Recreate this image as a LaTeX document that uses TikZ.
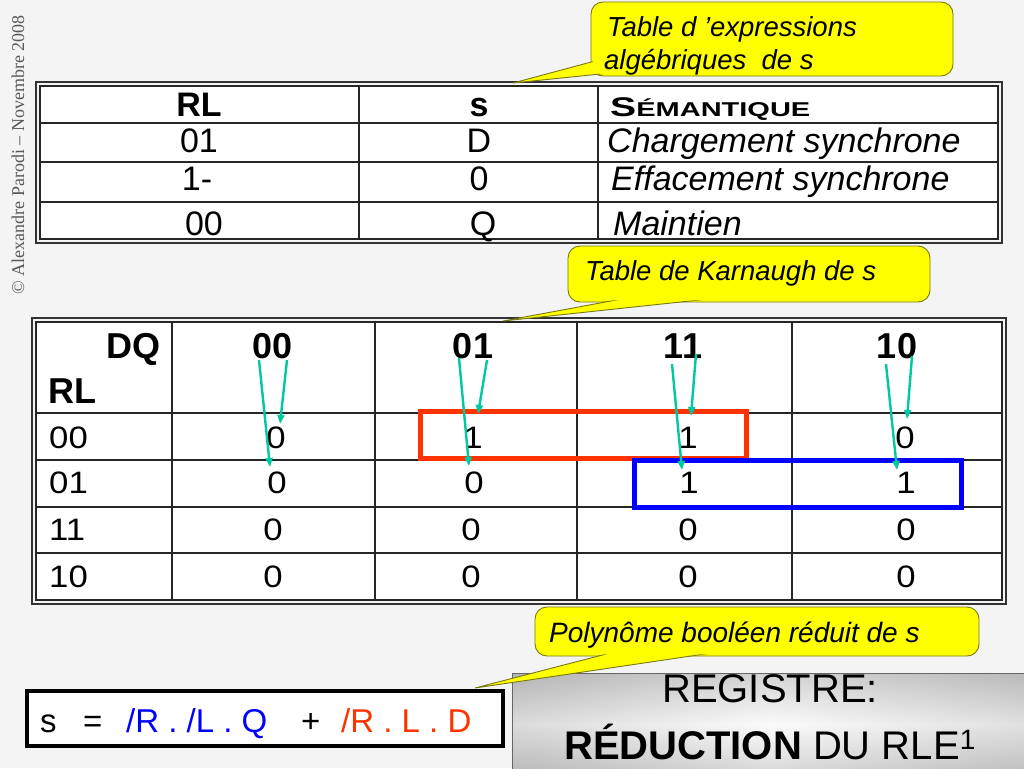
\documentclass[tikz,border=0pt]{standalone}
\usepackage{fontspec}
\setmainfont{Liberation Sans}
\newfontfamily\serifcopy{Liberation Serif}
\newfontfamily\kfont{Liberation Sans}[FakeStretch=1.12]
\usetikzlibrary{arrows.meta}
\newcommand{\fsz}[1]{\fontsize{#1}{#1}\selectfont}
\definecolor{bg}{RGB}{244,244,244}
\definecolor{callyellow}{RGB}{255,255,0}
\definecolor{callborder}{RGB}{120,120,20}
\definecolor{tealarrow}{RGB}{0,200,160}
\definecolor{redo}{RGB}{255,51,0}
\definecolor{blu}{RGB}{0,0,255}
\begin{document}
\begin{tikzpicture}[x=1pt,y=-1pt,
  t/.style={inner sep=0pt, anchor=base},
  tw/.style={inner sep=0pt, anchor=base west},
  te/.style={inner sep=0pt, anchor=base east},
  gridline/.style={line width=1.3pt, black!85},
  frameout/.style={line width=1.6pt, black!80},
  framein/.style={line width=1.6pt, black!85, fill=white},
  callbox/.style={fill=callyellow, draw=callborder, line width=0.9pt, rounded corners=12pt},
  callptr/.style={fill=callyellow, draw=callborder, line width=0.9pt, line join=miter},
  callfill/.style={fill=callyellow, rounded corners=10.5pt},
  calltxt/.style={inner sep=0pt, anchor=base west, font=\fsz{27.5}\itshape},
  toptxt/.style={inner sep=0pt, anchor=base, font=\fsz{34}},
  topsem/.style={inner sep=0pt, anchor=base west, font=\fsz{34}\itshape},
  khead/.style={inner sep=0pt, anchor=base, font=\fsz{36}\bfseries},
  kval/.style={inner sep=0pt, anchor=base, font=\kfont\fsz{31}},
  krow/.style={inner sep=0pt, anchor=base west, font=\kfont\fsz{31}},
  karrow/.style={tealarrow, line width=2.4pt, -{Triangle[length=9pt,width=7pt]}},
  groupbox/.style={line width=5pt},
]
\useasboundingbox (0,0) rectangle (1024,768);
\fill[bg] (0,0) rectangle (1024,768);

% copyright
\node[inner sep=0pt, rotate=90, text=black!65, font=\serifcopy\fsz{18}] (copy) at (18,155) {© Alexandre Parodi – Novembre 2008};

% ---------------- top table ----------------
\draw[frameout] (36,82) rectangle (1002,243);
\draw[framein] (40,86) rectangle (998,239);
\draw[gridline] (359,86) -- (359,239);
\draw[gridline] (598,86) -- (598,239);
\draw[gridline] (40,123) -- (998,123);
\draw[gridline] (40,162) -- (998,162);
\draw[gridline] (40,202) -- (998,202);

\node[toptxt, font=\fsz{34}\bfseries] (hRL) at (199,116) {RL};
\node[toptxt, font=\fsz{34}\bfseries] (hs) at (479,116) {s};
\node[tw] (hsem) at (610,116) {\scalebox{1.45}[1]{\bfseries\fsz{27}S\fsz{20}ÉMANTIQUE}};
\node[toptxt] (r1a) at (199,152) {01};
\node[toptxt] (r1b) at (479,152) {D};
\node[topsem] (r1c) at (607,152) {Chargement synchrone};
\node[toptxt] (r2a) at (197,190) {1-};
\node[toptxt] (r2b) at (479,190) {0};
\node[topsem] (r2c) at (611,190) {Effacement synchrone};
\node[toptxt] (r3a) at (204,235) {00};
\node[toptxt] (r3b) at (483,235) {Q};
\node[topsem] (r3c) at (613,235) {Maintien};

% ---------------- Karnaugh table ----------------
\draw[frameout] (32,318) rectangle (1006,604);
\draw[framein] (36,322) rectangle (1002,600);
\foreach \xx in {172,375,577,792} \draw[gridline] (\xx,322) -- (\xx,600);
\foreach \yy in {413,460,507,553} \draw[gridline] (36,\yy) -- (1002,\yy);

\node[te, font=\fsz{36}\bfseries] (kDQ) at (161,358) {DQ};
\node[tw, font=\fsz{36}\bfseries] (kRL) at (48,403) {RL};
\node[khead] (c00) at (273,358) {00};
\node[khead] (c01) at (473,358) {01};
\node[khead] (c11) at (683,358) {11};
\node[khead] (c10) at (897,358) {10};

\node[krow] (l00) at (49,448) {00};
\node[krow] (l01) at (49,493) {01};
\node[krow] (l11) at (49,540) {11};
\node[krow] (l10) at (49,587) {10};

\node[kval] (v11) at (276,448) {0};
\node[kval] (v12) at (473,448) {1};
\node[kval] (v13) at (688,448) {1};
\node[kval] (v14) at (905,448) {0};
\node[kval] (v21) at (277,493) {0};
\node[kval] (v22) at (474,493) {0};
\node[kval] (v23) at (689,493) {1};
\node[kval] (v24) at (906,493) {1};
\node[kval] (v31) at (273,540) {0};
\node[kval] (v32) at (471,540) {0};
\node[kval] (v33) at (688,540) {0};
\node[kval] (v34) at (906,540) {0};
\node[kval] (v41) at (273,587) {0};
\node[kval] (v42) at (471,587) {0};
\node[kval] (v43) at (688,587) {0};
\node[kval] (v44) at (906,587) {0};

% groupings
\draw[groupbox, redo] (420,411) rectangle (746,458);
\draw[groupbox, blu] (634,460) rectangle (961,507);

% arrows from header digits
\coordinate (a1s) at (259,360); \coordinate (a1e) at (270,467);
\coordinate (a2s) at (287,360); \coordinate (a2e) at (280,424);
\coordinate (a3s) at (459,358); \coordinate (a3e) at (469,466);
\coordinate (a4s) at (487,360); \coordinate (a4e) at (478,414);
\coordinate (a5s) at (672,364); \coordinate (a5e) at (682,470);
\coordinate (a6s) at (696,354); \coordinate (a6e) at (691,416);
\coordinate (a7s) at (886,364); \coordinate (a7e) at (897,470);
\coordinate (a8s) at (912,356); \coordinate (a8e) at (907,419);
\foreach \i in {1,...,8} \draw[karrow] (a\i s) -- (a\i e);

% ---------------- formula ----------------
\draw[line width=3.5pt, fill=white] (27,691) rectangle (503,746);
\node[tw, font=\fsz{33}] (fs) at (40,732) {s};
\node[tw, font=\fsz{33}] (feq) at (83,732) {=};
\node[tw, font=\fsz{33}, text=blu] (fblue) at (126,732) {/R . /L . Q};
\node[tw, font=\fsz{33}] (fplus) at (301,732) {+};
\node[tw, font=\fsz{33}, text=redo] (fred) at (341,732) {/R . L . D};

% ---------------- title box ----------------
\shade[top color=gray!55, bottom color=gray!50, middle color=gray!3] (512,673) rectangle (1030,775);
\shade[left color=gray!65, right color=gray!55, middle color=gray!3, opacity=0.4] (512,673) rectangle (1030,775);
\draw[gray!80!black, line width=0.8pt] (512,673) rectangle (1030,775);
\node[t, font=\fsz{40}] (title1) at (770,702) {REGISTRE:};
\node[t, font=\fsz{40}] (title2) at (770,759) {\textbf{RÉDUCTION} DU RLE\textsuperscript{1}};

% ---------------- callouts ----------------
% callout 1
\draw[callbox] (591,2) rectangle (953,76);
\draw[callptr] (595,61) -- (513,83) -- (610,73) -- cycle;
\fill[callfill] (592.6,3.6) rectangle (951.4,74.4);
\node[calltxt] (k1a) at (607,37) {Table d ’expressions};
\node[calltxt] (k1b) at (604,70) {algébriques\ \ de s};

% callout 2
\draw[callbox] (568,246) rectangle (930,302);
\draw[callptr] (627,298) -- (503,321) -- (718,298) -- cycle;
\fill[callfill] (569.6,247.6) rectangle (928.4,300.4);
\node[calltxt] (k2) at (585,280) {Table de Karnaugh de s};

% callout 3
\draw[callbox] (535,607) rectangle (979,656);
\draw[callptr] (614,652) -- (475,688) -- (718,652) -- cycle;
\fill[callfill] (536.6,608.6) rectangle (977.4,654.4);
\node[calltxt, font=\fsz{28}\itshape] (k3) at (549,642) {Polynôme booléen réduit de s};
\end{tikzpicture}
\end{document}
